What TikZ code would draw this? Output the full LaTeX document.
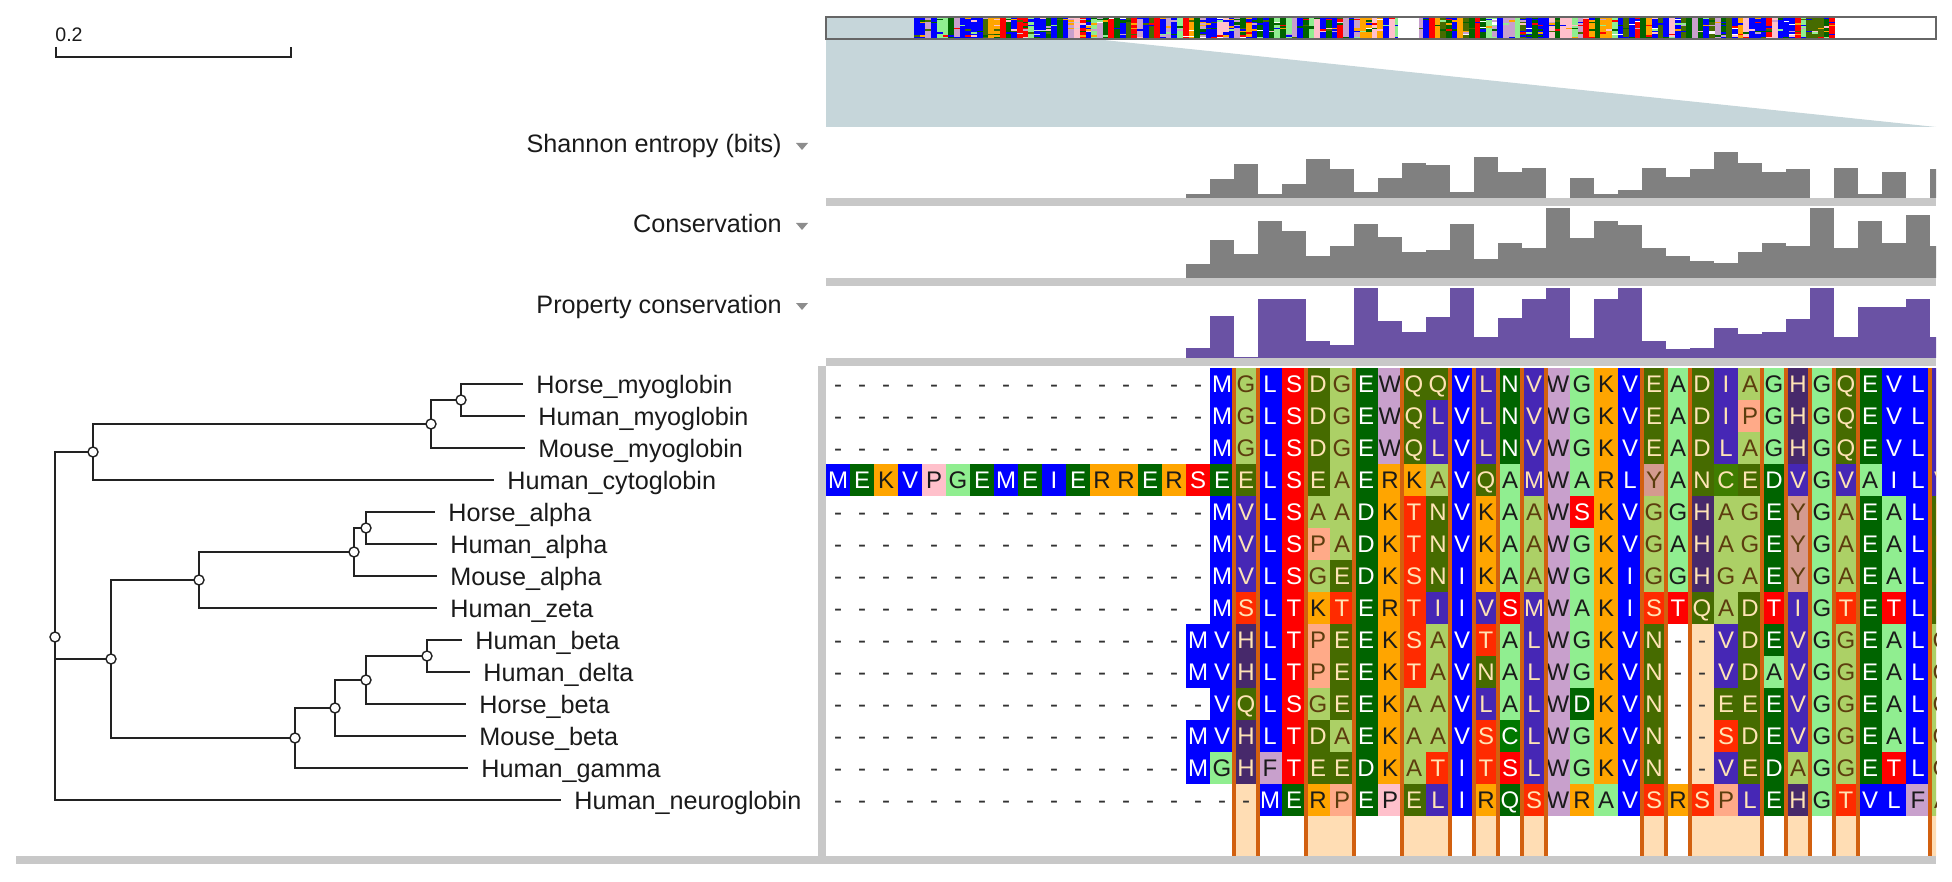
\documentclass[tikz,border=0pt]{standalone}
\usepackage{fontspec}
\setmainfont{Liberation Sans}
\usetikzlibrary{positioning}
\definecolor{ResBlue}{HTML}{0000FF}
\definecolor{ResRed}{HTML}{FF0000}
\definecolor{ResOrange}{HTML}{FFA500}
\definecolor{ResGreen}{HTML}{006400}
\definecolor{ResLime}{HTML}{90EE90}
\definecolor{ResPink}{HTML}{FFC0CB}
\definecolor{ResLilac}{HTML}{C8A0CC}
\definecolor{ResLeaf}{HTML}{007800}
\definecolor{AltLime}{HTML}{ACD066}
\definecolor{AltViolet}{HTML}{4627B5}
\definecolor{AltOlive}{HTML}{466B00}
\definecolor{AltScarlet}{HTML}{FF2B00}
\definecolor{AltSalmon}{HTML}{FFAA88}
\definecolor{AltRose}{HTML}{D49A8F}
\definecolor{AltPlum}{HTML}{47296B}
\definecolor{AltMoss}{HTML}{3F7D00}
\definecolor{InkDark}{HTML}{1A1A1A}
\definecolor{InkCream}{HTML}{FFE4B5}
\definecolor{InkBrown}{HTML}{5C3D0E}
\definecolor{GapInk}{HTML}{333333}
\definecolor{TreeInk}{HTML}{222222}
\definecolor{SepGrey}{HTML}{C8C8C8}
\definecolor{BarGrey}{HTML}{808080}
\definecolor{BarPurple}{HTML}{6A52A4}
\definecolor{ViewGrey}{HTML}{C6D6DA}
\definecolor{BoxGrey}{HTML}{666666}
\definecolor{MarkOrange}{HTML}{D2600F}
\definecolor{MarkPeach}{HTML}{FFDDB4}
\colorlet{ov1}{ResBlue}
\colorlet{ov2}{ResGreen}
\colorlet{ov3}{ResRed}
\colorlet{ov4}{ResOrange}
\colorlet{ov5}{ResLime}
\colorlet{ov6}{ResPink}
\colorlet{ov7}{ResLilac}
\colorlet{ov8}{AltOlive}
\colorlet{ov9}{ResBlue}
\colorlet{ov10}{ResGreen}
\colorlet{ov11}{ResBlue}
% columns with a marked group
\foreach \k in {17,20,21,24,25,27,29,34,36,37,38,40,42,46}{\expandafter\gdef\csname bd\k\endcsname{}}
\tikzset{
  cell/.style={minimum width=12.3pt,minimum height=16.3pt,inner sep=0pt,
    text height=8.6pt,text depth=0pt,font=\fontsize{12}{12}\selectfont},
  stdA/.style={fill=ResLime,text=InkDark}, stdG/.style={stdA},
  stdM/.style={fill=ResBlue,text=white}, stdL/.style={stdM}, stdV/.style={stdM}, stdI/.style={stdM},
  stdF/.style={fill=ResLilac,text=InkDark}, stdW/.style={stdF}, stdY/.style={stdF},
  stdS/.style={fill=ResRed,text=white}, stdT/.style={stdS},
  stdK/.style={fill=ResOrange,text=InkDark}, stdR/.style={stdK},
  stdD/.style={fill=ResGreen,text=white}, stdE/.style={stdD}, stdN/.style={stdD}, stdQ/.style={stdD},
  stdP/.style={fill=ResPink,text=InkDark},
  stdC/.style={fill=ResLeaf,text=white},
  stdH/.style={fill=AltPlum,text=InkCream},
  std-/.style={text=GapInk},
  altA/.style={fill=AltLime,text=InkBrown}, altG/.style={altA},
  altM/.style={fill=AltViolet,text=InkCream}, altL/.style={altM}, altV/.style={altM}, altI/.style={altM},
  altF/.style={fill=AltRose,text=InkBrown}, altW/.style={altF}, altY/.style={altF},
  altS/.style={fill=AltScarlet,text=InkCream}, altT/.style={altS},
  altK/.style={fill=ResOrange,text=InkDark}, altR/.style={altK},
  altD/.style={fill=AltOlive,text=InkCream}, altE/.style={altD}, altN/.style={altD}, altQ/.style={altD},
  altP/.style={fill=AltSalmon,text=InkBrown},
  altC/.style={fill=AltMoss,text=InkCream},
  altH/.style={fill=AltPlum,text=InkCream},
  alt-/.style={text=GapInk},
  colmark/.style={draw=MarkOrange,line width=2pt},
  branch/.style={draw=TreeInk,line width=1pt},
  junction/.style={circle,draw=TreeInk,fill=white,line width=0.7pt,inner sep=0pt,minimum size=5pt},
  leaflab/.style={inner sep=0pt,text height=9pt,text depth=0pt,text=InkDark,
    font=\fontsize{12.6}{13}\selectfont},
  tracklab/.style={leaflab},
  menutri/.style={fill=BarGrey!90!white},
  scalebar/.style={draw=TreeInk,line width=1pt},
}
\begin{document}
\begin{tikzpicture}[x=0.5pt,y=-0.5pt]
\useasboundingbox (0,0) rectangle (1952,882);

% scale bar
\node[inner sep=0pt,anchor=base west,text=InkDark,font=\fontsize{9.8}{10}\selectfont] (sbar) at (55,42) {0.2};
\draw[scalebar] (56,47) -- (56,57) -- (291,57) -- (291,47);

% overview with the view window
\fill[white] (826,17) rectangle (1936,39);
\fill[ViewGrey] (826,17) rectangle (1094,39);
\fill[ViewGrey] (826,39) -- (1094,39) -- (1936,127) -- (826,127) -- cycle;
\pgfmathsetseed{11}
\foreach \i in {0,...,160}{
  \pgfmathrandominteger{\base}{1}{11}
  \foreach \j in {0,...,13}{
    \pgfmathrandominteger{\pick}{1}{10}
    \ifnum\pick>8 \pgfmathrandominteger{\hue}{1}{12}\else\let\hue\base\fi
    \ifnum\hue<12 \fill[ov\hue] (914+5.72*\i,17.5+1.5*\j) rectangle ++(5.8,1.6);\fi
  }
}
\fill[white] (1398,18) rectangle (1419,38);
\draw[BoxGrey,line width=1pt] (826,17) rectangle (1936,39);

% annotation rows
\node[tracklab,anchor=east] (lshan) at (782,144) {Shannon entropy (bits)};
\node[tracklab,anchor=east] (lcons) at (782,224) {Conservation};
\node[tracklab,anchor=east] (lprop) at (782,304) {Property conservation};
\foreach \l in {lshan,lcons,lprop}
  \fill[menutri] (\l.east) ++(14,-1) -- ++(12,0) -- ++(-6,7) -- cycle;

\begin{scope}
  \clip (826,100) rectangle (1936,370);
  \foreach \h [count=\c from 15] in {4,19,34,4,14,39,29,6,20,35,33,6,41,26,30,0,20,4,8,30,21,29,46,35,26,29,0,30,4,26,0,29}
    \fill[BarGrey] (826+24*\c,198) rectangle ++(24,-\h);
  \foreach \h [count=\c from 15] in {14,38,24,57,47,22,32,54,41,26,28,54,19,35,30,70,40,57,53,30,22,17,15,26,35,32,70,30,57,35,63,32}
    \fill[BarGrey] (826+24*\c,278) rectangle ++(24,-\h);
  \foreach \h [count=\c from 15] in {10,42,1.5,59,59,17,13,70,37,26,41,70,21,40,59,70,20,59,70,17,9,10,30,24,26,39,70,21,51,51,59,21}
    \fill[BarPurple] (826+24*\c,358) rectangle ++(24,-\h);
\end{scope}
\fill[SepGrey] (826,198) rectangle (1936,206);
\fill[SepGrey] (826,278) rectangle (1936,286);
\fill[SepGrey] (826,358) rectangle (1936,366);

% alignment
\begin{scope}
  \clip (826,366) rectangle (1936,858);
  \foreach \a/\b in {17/17,20/21,24/25,27/27,29/29,34/34,36/38,40/40,42/42,46/46}
    \fill[MarkPeach] (826+24*\a,368) rectangle (850+24*\b,856);
  \foreach \r in {0,...,13}{
    \ifnum\r=3\else
      \foreach \c in {0,...,14}
        \node[cell,std-] (g\r-\c) at (838+24*\c,384+32*\r) {-};
    \fi
  }
  \foreach \a [count=\c from 0] in {M,E,K,V,P,G,E,M,E,I,E,R,R,E,R}
    \node[cell,std\a] (g3-\c) at (838+24*\c,480) {\a};
  \foreach \seq [count=\r from 0] in {
      {-,M,G,L,S,D,G,E,W,Q,Q,V,L,N,V,W,G,K,V,E,A,D,I,A,G,H,G,Q,E,V,L,I},
      {-,M,G,L,S,D,G,E,W,Q,L,V,L,N,V,W,G,K,V,E,A,D,I,P,G,H,G,Q,E,V,L,I},
      {-,M,G,L,S,D,G,E,W,Q,L,V,L,N,V,W,G,K,V,E,A,D,L,A,G,H,G,Q,E,V,L,I},
      {S,E,E,L,S,E,A,E,R,K,A,V,Q,A,M,W,A,R,L,Y,A,N,C,E,D,V,G,V,A,I,L,V},
      {-,M,V,L,S,A,A,D,K,T,N,V,K,A,A,W,S,K,V,G,G,H,A,G,E,Y,G,A,E,A,L,E},
      {-,M,V,L,S,P,A,D,K,T,N,V,K,A,A,W,G,K,V,G,A,H,A,G,E,Y,G,A,E,A,L,E},
      {-,M,V,L,S,G,E,D,K,S,N,I,K,A,A,W,G,K,I,G,G,H,G,A,E,Y,G,A,E,A,L,E},
      {-,M,S,L,T,K,T,E,R,T,I,I,V,S,M,W,A,K,I,S,T,Q,A,D,T,I,G,T,E,T,L,E},
      {M,V,H,L,T,P,E,E,K,S,A,V,T,A,L,W,G,K,V,N,-,-,V,D,E,V,G,G,E,A,L,G},
      {M,V,H,L,T,P,E,E,K,T,A,V,N,A,L,W,G,K,V,N,-,-,V,D,A,V,G,G,E,A,L,G},
      {-,V,Q,L,S,G,E,E,K,A,A,V,L,A,L,W,D,K,V,N,-,-,E,E,E,V,G,G,E,A,L,G},
      {M,V,H,L,T,D,A,E,K,A,A,V,S,C,L,W,G,K,V,N,-,-,S,D,E,V,G,G,E,A,L,G},
      {M,G,H,F,T,E,E,D,K,A,T,I,T,S,L,W,G,K,V,N,-,-,V,E,D,A,G,G,E,T,L,G},
      {-,-,-,M,E,R,P,E,P,E,L,I,R,Q,S,W,R,A,V,S,R,S,P,L,E,H,G,T,V,L,F,A}}{
    \foreach \a [count=\c from 15] in \seq {
      \edef\sty{\ifcsname bd\c\endcsname alt\else std\fi\a}
      \node[cell,\sty] (s\r-\c) at (838+24*\c,384+32*\r) {\a};
    }
  }
  \foreach \a/\b in {17/17,20/21,24/25,27/27,29/29,34/34,36/38,40/40,42/42,46/46}{
    \draw[colmark] (826+24*\a,368) -- (826+24*\a,856);
    \draw[colmark] (850+24*\b,368) -- (850+24*\b,856);
  }
\end{scope}
\fill[SepGrey] (818,366) rectangle (826,864);
\fill[SepGrey] (16,856) rectangle (1936,864);

% tree
\coordinate (root) at (55,637);
\coordinate (n1) at (461,400);
\coordinate (n2) at (431,424);
\coordinate (n3) at (93,452);
\coordinate (n4) at (366,528);
\coordinate (n5) at (354,552);
\coordinate (n6) at (199,580);
\coordinate (n7) at (427,656);
\coordinate (n8) at (366,680);
\coordinate (n9) at (335,708);
\coordinate (n10) at (295,738);
\coordinate (n11) at (111,659);
\coordinate (hmyo) at (523,384);
\coordinate (humyo) at (525,416);
\coordinate (mmyo) at (525,448);
\coordinate (hcyto) at (494,480);
\coordinate (hoalpha) at (435,512);
\coordinate (hualpha) at (437,544);
\coordinate (malpha) at (437,576);
\coordinate (hzeta) at (437,608);
\coordinate (hbeta) at (462,640);
\coordinate (hdelta) at (470,672);
\coordinate (hobeta) at (466,704);
\coordinate (mbeta) at (466,736);
\coordinate (hgamma) at (468,768);
\coordinate (hngb) at (561,800);
\foreach \p/\c in {n1/hmyo,n1/humyo,n2/n1,n2/mmyo,n3/n2,n3/hcyto,
    n4/hoalpha,n4/hualpha,n5/n4,n5/malpha,n6/n5,n6/hzeta,
    n7/hbeta,n7/hdelta,n8/n7,n8/hobeta,n9/n8,n9/mbeta,n10/n9,n10/hgamma,
    n11/n6,n11/n10,root/n3,root/n11,root/hngb}
  \draw[branch] (\p) |- (\c);
\foreach \n in {root,n1,n2,n3,n4,n5,n6,n7,n8,n9,n10,n11}
  \node[junction] (j\n) at (\n) {};
\foreach \c/\t in {hmyo/Horse\_myoglobin,humyo/Human\_myoglobin,mmyo/Mouse\_myoglobin,
    hcyto/Human\_cytoglobin,hoalpha/Horse\_alpha,hualpha/Human\_alpha,
    malpha/Mouse\_alpha,hzeta/Human\_zeta,hbeta/Human\_beta,hdelta/Human\_delta,
    hobeta/Horse\_beta,mbeta/Mouse\_beta,hgamma/Human\_gamma,hngb/Human\_neuroglobin}
  \node[leaflab,right=6.5pt of \c] (l\c) {\t};
\end{tikzpicture}
\end{document}
